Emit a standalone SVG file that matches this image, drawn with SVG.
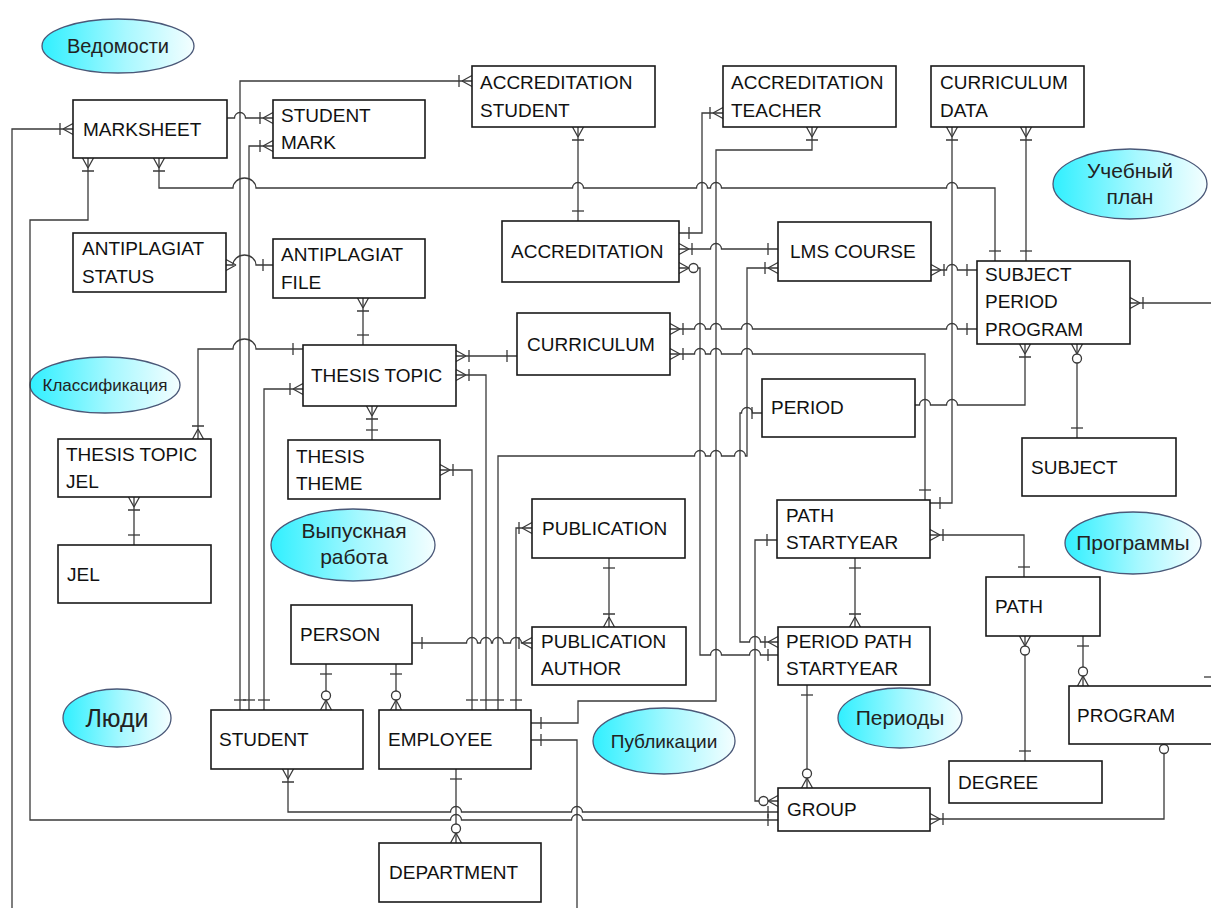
<svg xmlns="http://www.w3.org/2000/svg" xmlns:xlink="http://www.w3.org/1999/xlink" width="1211" height="908" viewBox="0 0 1211 908">
  <style>
    .box { fill: #ffffff; stroke: #1a1a1a; stroke-width: 1.6; }
    .t { font-family: "Liberation Sans", Arial, sans-serif; font-size: 19px; fill: #111111; }
    .ln { fill: none; stroke: #3a3a3a; stroke-width: 1.3; }
    .mk { fill: none; stroke: #3a3a3a; stroke-width: 1.3; }
    .area { stroke: #4a5878; stroke-width: 1.3; fill: url(#cyanGrad); }
    .at { font-family: "Liberation Sans", Arial, sans-serif; fill: #222222; text-anchor: middle; }
  </style>
  <defs>
    <linearGradient id="cyanGrad" x1="0" y1="0" x2="1" y2="0">
      <stop offset="0" stop-color="#30f0ff"/>
      <stop offset="0.55" stop-color="#a8f8ff"/>
      <stop offset="1" stop-color="#f4feff"/>
    </linearGradient>
    <!-- cardinality ends: local origin on the entity edge, line arrives from -x -->
    <g id="one" class="mk"><path d="M-10,-6V6"/></g>
    <g id="many" class="mk"><path d="M-10,0L0,-5.5M-10,0L0,5.5"/></g>
    <g id="omany" class="mk"><path d="M-10,0L0,-5.5M-10,0L0,5.5M-13,-6V6"/></g>
    <g id="zmany" class="mk"><path d="M-10,0L0,-5.5M-10,0L0,5.5"/><circle cx="-14.5" cy="0" r="4.5" fill="#ffffff"/></g>
    <g id="zero" class="mk"><circle cx="-5" cy="0" r="4.5" fill="#ffffff"/></g>
  </defs>

  <rect width="1211" height="908" fill="#ffffff"/>

  <!-- subject areas -->
  <g id="area-vedomosti">
    <ellipse class="area" cx="118" cy="46" rx="76" ry="27"/>
    <text class="at" x="118" y="53" font-size="20">Ведомости</text>
  </g>
  <g id="area-plan">
    <ellipse class="area" cx="1130" cy="184" rx="77" ry="35"/>
    <text class="at" x="1130" y="178" font-size="21">Учебный</text>
    <text class="at" x="1130" y="204" font-size="21">план</text>
  </g>
  <g id="area-class">
    <ellipse class="area" cx="105" cy="385" rx="75" ry="28"/>
    <text class="at" x="105" y="391" font-size="17">Классификация</text>
  </g>
  <g id="area-thesis">
    <ellipse class="area" cx="353" cy="545" rx="82" ry="36"/>
    <text class="at" x="354" y="538" font-size="21">Выпускная</text>
    <text class="at" x="354" y="564" font-size="21">работа</text>
  </g>
  <g id="area-programs">
    <ellipse class="area" cx="1133" cy="543" rx="68" ry="31"/>
    <text class="at" x="1133" y="550" font-size="21">Программы</text>
  </g>
  <g id="area-people">
    <ellipse class="area" cx="117" cy="718" rx="54" ry="29"/>
    <text class="at" x="117" y="727" font-size="25">Люди</text>
  </g>
  <g id="area-pubs">
    <ellipse class="area" cx="664" cy="741" rx="71" ry="33"/>
    <text class="at" x="664" y="748" font-size="19">Публикации</text>
  </g>
  <g id="area-periods">
    <ellipse class="area" cx="900" cy="718" rx="62" ry="30"/>
    <text class="at" x="900" y="725" font-size="21">Периоды</text>
  </g>

  <!-- relationships -->
  <g id="connectors">
    <path class="ln" d="M73,129H12V908"/>
    <path class="ln" d="M88,158V220H30V820H450.5A5.5,5.5 0 0 1 461.5,820H571.5A5.5,5.5 0 0 1 582.5,820H778"/>
    <path class="ln" d="M288,769V812H450.5A5.5,5.5 0 0 1 461.5,812H571.5A5.5,5.5 0 0 1 582.5,812H778"/>
    <path class="ln" d="M227,118H234.5A5.5,5.5 0 0 1 245.5,118H273"/>
    <path class="ln" d="M472,81H240V710"/>
    <path class="ln" d="M273,146H249V710"/>
    <path class="ln" d="M159,158V188H233A11.5,10 0 0 1 256,188H572.5A5.5,5.5 0 0 1 583.5,188H696.5A5.5,5.5 0 0 1 707.5,188H710.5A5.5,5.5 0 0 1 721.5,188H946.5A5.5,5.5 0 0 1 957.5,188H995V261"/>
    <path class="ln" d="M226,265H233A11.5,10 0 0 1 256,265H273"/>
    <path class="ln" d="M363,298V345"/>
    <path class="ln" d="M303,349H256A11.5,10 0 0 0 233,349H198V439"/>
    <path class="ln" d="M303,389H264V710"/>
    <path class="ln" d="M372,406V440"/>
    <path class="ln" d="M456,356H517"/>
    <path class="ln" d="M456,375H486V710"/>
    <path class="ln" d="M440,470H472V710"/>
    <path class="ln" d="M134,497V545"/>
    <path class="ln" d="M578,127V221"/>
    <path class="ln" d="M679,233H702V113H723"/>
    <path class="ln" d="M679,249H710.5A5.5,5.5 0 0 1 721.5,249H778"/>
    <path class="ln" d="M679,268H700V655H710.5A5.5,5.5 0 0 1 721.5,655H749.5A5.5,5.5 0 0 1 760.5,655H778"/>
    <path class="ln" d="M812,127V150H716V701H578V723H531"/>
    <path class="ln" d="M498,710V456H694.5A5.5,5.5 0 0 1 705.5,456H710.5A5.5,5.5 0 0 1 721.5,456H734.5A5.5,5.5 0 0 1 745.5,456H747V268H778"/>
    <path class="ln" d="M762,413H752.5A5.5,5.5 0 0 0 741.5,413H740V642H749.5A5.5,5.5 0 0 1 760.5,642H778"/>
    <path class="ln" d="M670,329H694.5A5.5,5.5 0 0 1 705.5,329H710.5A5.5,5.5 0 0 1 721.5,329H741.5A5.5,5.5 0 0 1 752.5,329H946.5A5.5,5.5 0 0 1 957.5,329H977"/>
    <path class="ln" d="M670,354H694.5A5.5,5.5 0 0 1 705.5,354H710.5A5.5,5.5 0 0 1 721.5,354H741.5A5.5,5.5 0 0 1 752.5,354H925V500"/>
    <path class="ln" d="M931,270H946.5A5.5,5.5 0 0 1 957.5,270H977"/>
    <path class="ln" d="M952,127V503H930"/>
    <path class="ln" d="M1026,127V261"/>
    <path class="ln" d="M915,405H919.5A5.5,5.5 0 0 1 930.5,405H946.5A5.5,5.5 0 0 1 957.5,405H1025V344"/>
    <path class="ln" d="M1077,344V438"/>
    <path class="ln" d="M1130,303H1211"/>
    <path class="ln" d="M930,535H1024V577"/>
    <path class="ln" d="M777,540H755V801H778"/>
    <path class="ln" d="M855,558V627"/>
    <path class="ln" d="M807,685V788"/>
    <path class="ln" d="M930,819H1164V744"/>
    <path class="ln" d="M1025,636V761"/>
    <path class="ln" d="M1083,636V686"/>
    <path class="ln" d="M412,643H466.5A5.5,5.5 0 0 1 477.5,643H480.5A5.5,5.5 0 0 1 491.5,643H492.5A5.5,5.5 0 0 1 503.5,643H510.5A5.5,5.5 0 0 1 521.5,643H532"/>
    <path class="ln" d="M326,664V710"/>
    <path class="ln" d="M396,664V710"/>
    <path class="ln" d="M456,769V843"/>
    <path class="ln" d="M531,740H577V908"/>
    <path class="ln" d="M516,710V528H532"/>
    <path class="ln" d="M609,558V627"/>
    <path class="ln" d="M1204,677H1211"/>

    <!-- ends -->
    <use href="#omany" transform="translate(73,129)"/>
    <use href="#omany" transform="translate(88,158) rotate(-90)"/>
    <use href="#one" transform="translate(778,820)"/>
    <use href="#omany" transform="translate(288,769) rotate(-90)"/>
    <use href="#one" transform="translate(778,812)"/>
    <use href="#omany" transform="translate(273,118)"/>
    <use href="#omany" transform="translate(472,81)"/>
    <use href="#one" transform="translate(240,710) rotate(90)"/>
    <use href="#omany" transform="translate(273,146)"/>
    <use href="#one" transform="translate(249,710) rotate(90)"/>
    <use href="#omany" transform="translate(159,158) rotate(-90)"/>
    <use href="#one" transform="translate(995,261) rotate(90)"/>
    <use href="#many" transform="translate(226,265) rotate(180)"/>
    <use href="#one" transform="translate(273,265)"/>
    <use href="#omany" transform="translate(363,298) rotate(-90)"/>
    <use href="#one" transform="translate(363,345) rotate(90)"/>
    <use href="#one" transform="translate(303,349)"/>
    <use href="#omany" transform="translate(198,439) rotate(90)"/>
    <use href="#omany" transform="translate(303,389)"/>
    <use href="#one" transform="translate(264,710) rotate(90)"/>
    <use href="#omany" transform="translate(372,406) rotate(-90)"/>
    <use href="#one" transform="translate(372,440) rotate(90)"/>
    <use href="#omany" transform="translate(456,356) rotate(180)"/>
    <use href="#one" transform="translate(517,356)"/>
    <use href="#omany" transform="translate(456,375) rotate(180)"/>
    <use href="#one" transform="translate(486,710) rotate(90)"/>
    <use href="#omany" transform="translate(440,470) rotate(180)"/>
    <use href="#one" transform="translate(472,710) rotate(90)"/>
    <use href="#omany" transform="translate(134,497) rotate(-90)"/>
    <use href="#one" transform="translate(134,545) rotate(90)"/>
    <use href="#omany" transform="translate(578,127) rotate(-90)"/>
    <use href="#one" transform="translate(578,221) rotate(90)"/>
    <use href="#one" transform="translate(679,233) rotate(180)"/>
    <use href="#omany" transform="translate(723,113)"/>
    <use href="#omany" transform="translate(679,249) rotate(180)"/>
    <use href="#one" transform="translate(778,249)"/>
    <use href="#zmany" transform="translate(679,268) rotate(180)"/>
    <use href="#one" transform="translate(778,655)"/>
    <use href="#omany" transform="translate(812,127) rotate(-90)"/>
    <use href="#one" transform="translate(531,723) rotate(180)"/>
    <use href="#one" transform="translate(498,710) rotate(90)"/>
    <use href="#omany" transform="translate(778,268)"/>
    <use href="#one" transform="translate(762,413)"/>
    <use href="#omany" transform="translate(778,642)"/>
    <use href="#omany" transform="translate(670,329) rotate(180)"/>
    <use href="#one" transform="translate(977,329)"/>
    <use href="#omany" transform="translate(670,354) rotate(180)"/>
    <use href="#one" transform="translate(925,500) rotate(90)"/>
    <use href="#omany" transform="translate(931,270) rotate(180)"/>
    <use href="#one" transform="translate(977,270)"/>
    <use href="#omany" transform="translate(952,127) rotate(-90)"/>
    <use href="#one" transform="translate(930,503) rotate(180)"/>
    <use href="#omany" transform="translate(1026,127) rotate(-90)"/>
    <use href="#one" transform="translate(1026,261) rotate(90)"/>
    <use href="#omany" transform="translate(1025,344) rotate(-90)"/>
    <use href="#zmany" transform="translate(1077,344) rotate(-90)"/>
    <use href="#one" transform="translate(1077,438) rotate(90)"/>
    <use href="#omany" transform="translate(1130,303) rotate(180)"/>
    <use href="#omany" transform="translate(930,535) rotate(180)"/>
    <use href="#one" transform="translate(1024,577) rotate(90)"/>
    <use href="#one" transform="translate(777,540)"/>
    <use href="#zmany" transform="translate(778,801)"/>
    <use href="#one" transform="translate(855,558) rotate(-90)"/>
    <use href="#omany" transform="translate(855,627) rotate(90)"/>
    <use href="#one" transform="translate(807,685) rotate(-90)"/>
    <use href="#zmany" transform="translate(807,788) rotate(90)"/>
    <use href="#omany" transform="translate(930,819) rotate(180)"/>
    <use href="#zero" transform="translate(1164,744) rotate(-90)"/>
    <use href="#zmany" transform="translate(1025,636) rotate(-90)"/>
    <use href="#one" transform="translate(1025,761) rotate(90)"/>
    <use href="#one" transform="translate(1083,636) rotate(-90)"/>
    <use href="#zmany" transform="translate(1083,686) rotate(90)"/>
    <use href="#one" transform="translate(412,643) rotate(180)"/>
    <use href="#omany" transform="translate(532,643)"/>
    <use href="#one" transform="translate(326,664) rotate(-90)"/>
    <use href="#zmany" transform="translate(326,710) rotate(90)"/>
    <use href="#one" transform="translate(396,664) rotate(-90)"/>
    <use href="#zmany" transform="translate(396,710) rotate(90)"/>
    <use href="#one" transform="translate(456,769) rotate(-90)"/>
    <use href="#zmany" transform="translate(456,843) rotate(90)"/>
    <use href="#one" transform="translate(531,740) rotate(180)"/>
    <use href="#one" transform="translate(516,710) rotate(90)"/>
    <use href="#omany" transform="translate(532,528)"/>
    <use href="#one" transform="translate(609,558) rotate(-90)"/>
    <use href="#omany" transform="translate(609,627) rotate(90)"/>
  </g>

  <!-- entities -->
  <g id="marksheet"><rect class="box" x="73" y="100" width="154" height="58"/><text class="t" x="83" y="136">MARKSHEET</text></g>
  <g id="student-mark"><rect class="box" x="273" y="100" width="152" height="58"/><text class="t" x="281" y="122">STUDENT</text><text class="t" x="281" y="149">MARK</text></g>
  <g id="accreditation-student"><rect class="box" x="472" y="66" width="183" height="61"/><text class="t" x="480" y="89">ACCREDITATION</text><text class="t" x="480" y="117">STUDENT</text></g>
  <g id="accreditation-teacher"><rect class="box" x="723" y="66" width="173" height="61"/><text class="t" x="731" y="89">ACCREDITATION</text><text class="t" x="731" y="117">TEACHER</text></g>
  <g id="curriculum-data"><rect class="box" x="931" y="66" width="153" height="61"/><text class="t" x="940" y="89">CURRICULUM</text><text class="t" x="940" y="117">DATA</text></g>
  <g id="antiplagiat-status"><rect class="box" x="73" y="233" width="153" height="59"/><text class="t" x="82" y="255">ANTIPLAGIAT</text><text class="t" x="82" y="283">STATUS</text></g>
  <g id="antiplagiat-file"><rect class="box" x="273" y="239" width="152" height="59"/><text class="t" x="281" y="261">ANTIPLAGIAT</text><text class="t" x="281" y="289">FILE</text></g>
  <g id="accreditation"><rect class="box" x="502" y="221" width="177" height="61"/><text class="t" x="511" y="258">ACCREDITATION</text></g>
  <g id="lms-course"><rect class="box" x="778" y="222" width="153" height="59"/><text class="t" x="790" y="258">LMS COURSE</text></g>
  <g id="subject-period-program"><rect class="box" x="977" y="261" width="153" height="83"/><text class="t" x="985" y="281">SUBJECT</text><text class="t" x="985" y="308">PERIOD</text><text class="t" x="985" y="336">PROGRAM</text></g>
  <g id="curriculum"><rect class="box" x="517" y="313" width="153" height="62"/><text class="t" x="527" y="351">CURRICULUM</text></g>
  <g id="thesis-topic"><rect class="box" x="303" y="345" width="153" height="61"/><text class="t" x="311" y="382">THESIS TOPIC</text></g>
  <g id="period"><rect class="box" x="762" y="379" width="153" height="58"/><text class="t" x="771" y="414">PERIOD</text></g>
  <g id="thesis-topic-jel"><rect class="box" x="58" y="439" width="153" height="58"/><text class="t" x="66" y="461">THESIS TOPIC</text><text class="t" x="66" y="488">JEL</text></g>
  <g id="jel"><rect class="box" x="58" y="545" width="153" height="58"/><text class="t" x="67" y="581">JEL</text></g>
  <g id="thesis-theme"><rect class="box" x="288" y="440" width="152" height="59"/><text class="t" x="296" y="463">THESIS</text><text class="t" x="296" y="490">THEME</text></g>
  <g id="subject"><rect class="box" x="1022" y="438" width="154" height="58"/><text class="t" x="1031" y="474">SUBJECT</text></g>
  <g id="publication"><rect class="box" x="532" y="499" width="153" height="59"/><text class="t" x="542" y="535">PUBLICATION</text></g>
  <g id="path-startyear"><rect class="box" x="777" y="500" width="153" height="58"/><text class="t" x="786" y="522">PATH</text><text class="t" x="786" y="549">STARTYEAR</text></g>
  <g id="path"><rect class="box" x="986" y="577" width="114" height="59"/><text class="t" x="995" y="613">PATH</text></g>
  <g id="person"><rect class="box" x="291" y="605" width="121" height="59"/><text class="t" x="300" y="641">PERSON</text></g>
  <g id="publication-author"><rect class="box" x="532" y="627" width="154" height="58"/><text class="t" x="541" y="648">PUBLICATION</text><text class="t" x="541" y="675">AUTHOR</text></g>
  <g id="period-path-startyear"><rect class="box" x="778" y="627" width="152" height="58"/><text class="t" x="786" y="648">PERIOD PATH</text><text class="t" x="786" y="675">STARTYEAR</text></g>
  <g id="program"><rect class="box" x="1069" y="686" width="150" height="58"/><text class="t" x="1077" y="722">PROGRAM</text></g>
  <g id="degree"><rect class="box" x="949" y="761" width="153" height="42"/><text class="t" x="958" y="789">DEGREE</text></g>
  <g id="student"><rect class="box" x="211" y="710" width="152" height="59"/><text class="t" x="219" y="746">STUDENT</text></g>
  <g id="employee"><rect class="box" x="379" y="710" width="152" height="59"/><text class="t" x="388" y="746">EMPLOYEE</text></g>
  <g id="group"><rect class="box" x="778" y="788" width="152" height="43"/><text class="t" x="787" y="816">GROUP</text></g>
  <g id="department"><rect class="box" x="379" y="843" width="162" height="59"/><text class="t" x="389" y="879">DEPARTMENT</text></g>
</svg>
